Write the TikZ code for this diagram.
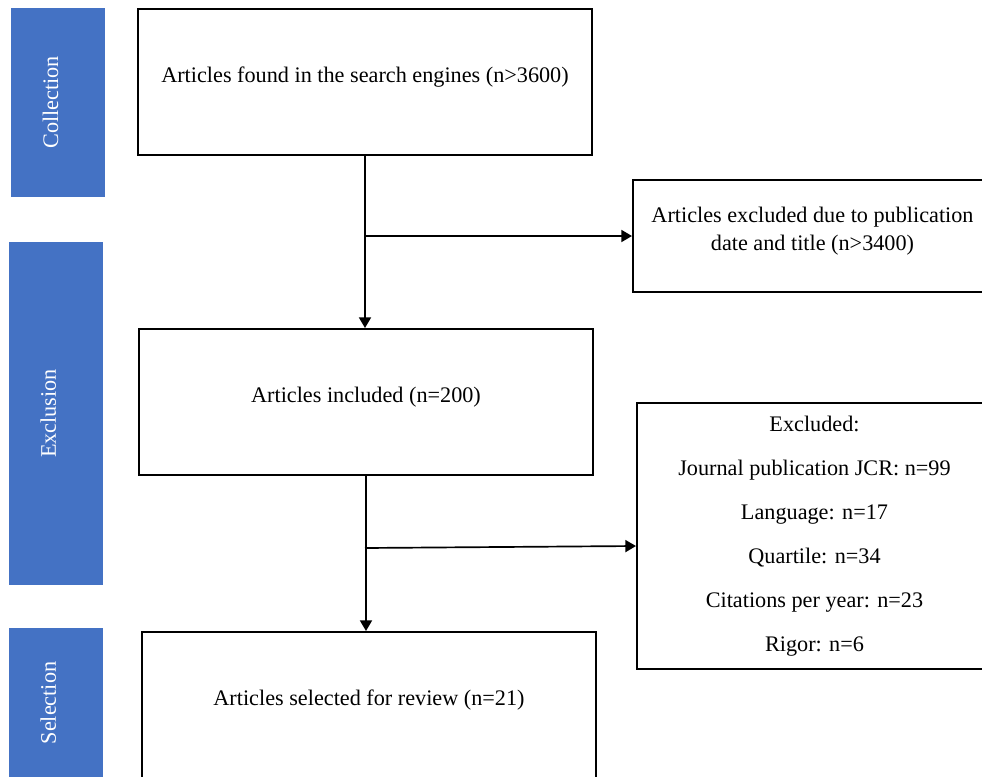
\documentclass[tikz,border=0pt]{standalone}
\usepackage{fontspec}
\setmainfont{Liberation Serif}
\usepackage{xcolor}
\definecolor{colorStage}{HTML}{4472C4}
\usetikzlibrary{arrows.meta, positioning}
\tikzset{
  stage/.style={fill=colorStage, text=white, rotate=90, inner sep=0pt,
    minimum height=2.35cm, text height=0pt, text depth=0pt},
  box/.style={draw, line width=1.4pt, inner sep=0pt, minimum width=11.35cm,
    minimum height=3.65cm, text height=0pt, text depth=0pt},
  xbox/.style={draw, line width=1.4pt, inner sep=0pt, align=center},
}

\begin{document}
\begin{tikzpicture}[x=0.025cm, y=-0.025cm, >={Triangle[length=7.5pt,width=8.5pt]}, line width=1.2pt, every node/.style={font=\fontsize{15.8}{19.9}\selectfont}]
\useasboundingbox (0,0) rectangle (982,777);
\clip (0,0) rectangle (982,777);
% stages
\node[stage, minimum width=4.725cm] (s1) at (58,102.5) {Collection};
\node[stage, minimum width=8.575cm] (s2) at (56,413.5) {Exclusion};
\node[stage, minimum width=3.75cm] (s3) at (56,703) {Selection};
% articles
\node[box] (a0) at (365,82) {Articles found in the search engines (n>3600)};
\node[box] (a1) at (366,402) {Articles included (n=200)};
\node[box] (a2) at (369,705) {Articles selected for review (n=21)};
% excluded
\node[xbox, minimum width=8.975cm, minimum height=2.8cm] (e1) at (812.5,236) {Articles excluded due to publication\\date and title (n>3400)\\[-9.2pt]\mbox{}};
\node[xbox, minimum width=8.875cm, minimum height=6.65cm, font=\fontsize{15.8}{31.2}\selectfont] (e2) at (814.5,536) {Excluded:\\Journal publication JCR: n=99\\Language: n=17\\Quartile: n=34\\Citations per year: n=23\\Rigor: n=6};
% flow
\coordinate (j1) at (a0.south |- e1.west);
\coordinate (j2) at (365,548);
\draw[->] (a0.south) -- (a0.south |- a1.north);
\draw[->] (j1) -- (e1.west);
\draw[->] (a1.south) -- (a1.south |- a2.north);
\draw[->] (j2) -- ([yshift=-0.25cm]e2.west);
\end{tikzpicture}
\end{document}
